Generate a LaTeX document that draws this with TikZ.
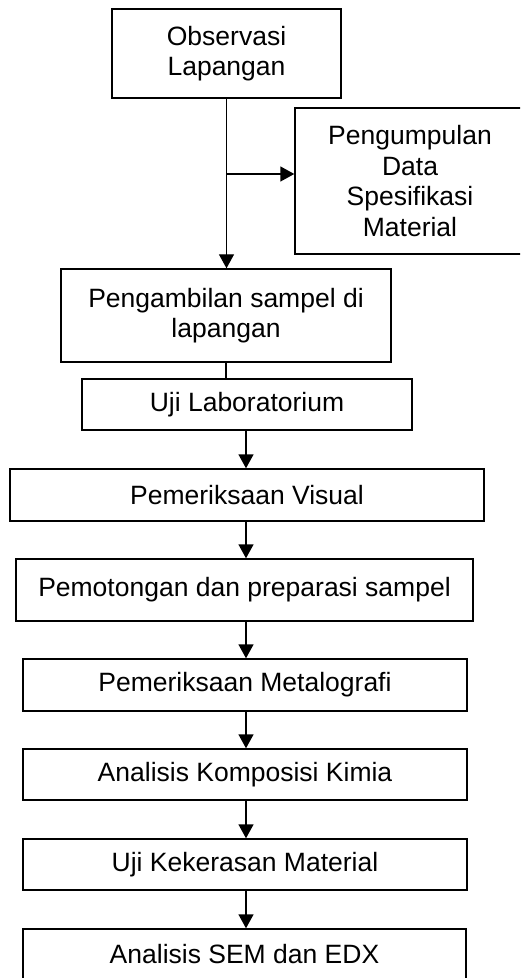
\documentclass[tikz,border=0pt]{standalone}
\usepackage{fontspec}
\setmainfont{Liberation Sans}
\usetikzlibrary{positioning, arrows.meta}

\tikzset{
  box/.style={draw, line width=0.7pt, rectangle, align=center, inner sep=2pt,
              font=\fontsize{13.25pt}{15.25pt}\selectfont},
  line/.style={line width=0.7pt},
}

\begin{document}
\begin{tikzpicture}[x=0.5pt, y=-0.5pt, >={Triangle[width=7.5pt,length=7pt]}]

\clip (0,0) rectangle (520,978);

\node[box, minimum width=114.5pt, minimum height=44.5pt] (obs)    at (226.5,53.5) {Observasi\\Lapangan};
\node[box, minimum width=115pt,   minimum height=73pt]   (data)   at (410,181)    {Pengumpulan\\Data\\Spesifikasi\\Material};
\node[box, minimum width=165pt,   minimum height=46.5pt] (ambil)  at (226,315.5)  {Pengambilan sampel di\\lapangan};
\node[box, minimum width=165pt,   minimum height=25.5pt] (lab)    at (247,404.5)  {Uji Laboratorium};
\node[box, minimum width=237pt,   minimum height=26pt]   (visual) at (247,495)    {Pemeriksaan Visual};
\node[box, minimum width=228.5pt, minimum height=31pt]   (potong) at (244.5,590)  {Pemotongan dan preparasi sampel};
\node[box, minimum width=222pt,   minimum height=26pt]   (metalo) at (245,685)    {Pemeriksaan Metalografi};
\node[box, minimum width=222pt,   minimum height=25.5pt] (kimia)  at (245,774.5)  {Analisis Komposisi Kimia};
\node[box, minimum width=222pt,   minimum height=25.5pt] (keras)  at (245,864.5)  {Uji Kekerasan Material};
\node[box, minimum width=221.5pt, minimum height=25pt]   (sem)    at (244.5,954)  {Analisis SEM dan EDX};

\coordinate (branch) at (226,174);
\coordinate (spine) at (246,0);

\draw[line, ->] (obs.south) -- (obs.south |- ambil.north);
\draw[line, ->] (branch) -- (branch -| data.west);
\draw[line] (ambil.south) -- (ambil.south |- lab.north);

\draw[line, ->] (spine |- lab.south)    -- (spine |- visual.north);
\draw[line, ->] (spine |- visual.south) -- (spine |- potong.north);
\draw[line, ->] (spine |- potong.south) -- (spine |- metalo.north);
\draw[line, ->] (spine |- metalo.south) -- (spine |- kimia.north);
\draw[line, ->] (spine |- kimia.south)  -- (spine |- keras.north);
\draw[line, ->] (spine |- keras.south)  -- (spine |- sem.north);

\end{tikzpicture}
\end{document}
